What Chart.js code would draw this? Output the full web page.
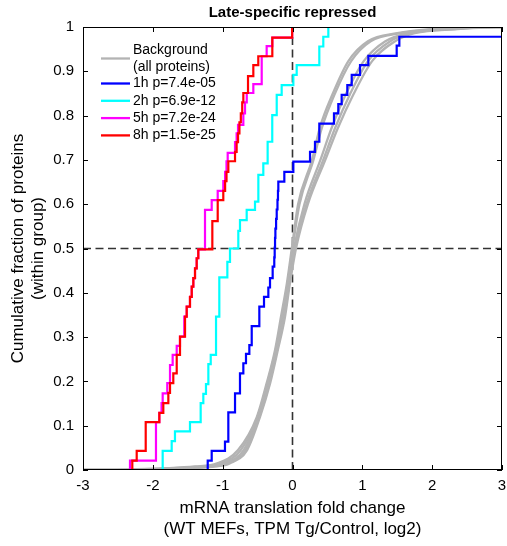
<!DOCTYPE html>
<html>
<head>
<meta charset="utf-8">
<title>Late-specific repressed</title>
<script src="https://cdn.jsdelivr.net/npm/chart.js@4.4.1/dist/chart.umd.min.js"></script>
<style>
    html, body { margin: 0; padding: 0; background: #fff; }
    #wrap { width: 507px; height: 546px; }
</style>
</head>
<body>
<div id="wrap"><canvas id="cdfChart" width="507" height="546"></canvas></div>

<script>
// Group labels and KS p-values
const hours = ['1h', '2h', '5h', '8h'];
const pValues = ['7.4e-05', '6.9e-12', '7.2e-24', '1.5e-25'];

// Background (all proteins): cumulative fraction levels and log2 fold change per replicate curve
const bgFrac = [0, 0.001, 0.004, 0.008, 0.015, 0.045, 0.12, 0.196, 0.271, 0.346, 0.422, 0.5, 0.6, 0.7, 0.772, 0.847, 0.923, 0.968, 0.986, 0.995, 0.999, 1];
const bgA = [-3, -2.4, -1.8, -1.4, -1.08, -0.78, -0.51, -0.37, -0.25, -0.165, -0.08, -0.01, 0.08, 0.28, 0.39, 0.57, 0.80, 1.08, 1.50, 1.97, 2.5, 3];
const bgB = [-3, -2.3, -1.7, -1.3, -1.02, -0.74, -0.50, -0.36, -0.24, -0.15, -0.07, 0.00, 0.10, 0.30, 0.42, 0.60, 0.84, 1.12, 1.55, 2.05, 2.6, 3];
const bgC = [-3, -2.2, -1.6, -1.22, -0.97, -0.70, -0.49, -0.34, -0.23, -0.13, -0.055, 0.02, 0.17, 0.40, 0.56, 0.76, 1.02, 1.33, 1.65, 2.2, 2.7, 3];
const bgD = [-3, -2.1, -1.5, -1.15, -0.93, -0.67, -0.475, -0.33, -0.22, -0.118, -0.045, 0.035, 0.20, 0.44, 0.61, 0.82, 1.08, 1.40, 1.70, 2.3, 2.75, 3];
const bgE = [-3, -2.0, -1.45, -1.1, -0.9, -0.65, -0.465, -0.32, -0.21, -0.107, -0.036, 0.05, 0.22, 0.47, 0.65, 0.87, 1.14, 1.47, 1.75, 2.36, 2.8, 3];

// Late-specific repressed group: step positions (log2 FC) and cumulative fraction after each step
const x1h = [-1.214, -1.157, -0.967, -0.919, -0.823, -0.752, -0.704, -0.666, -0.618, -0.584, -0.475, -0.408, -0.346, -0.322, -0.284, -0.261, -0.255, -0.250, -0.245, -0.235, -0.226, -0.215, -0.208, -0.203, -0.117, 0.012, 0.251, 0.322, 0.384, 0.594, 0.656, 0.704, 0.785, 0.848, 0.967, 1.086, 1.492, 1.530, 3];
const frac1h = [0.021, 0.043, 0.064, 0.130, 0.173, 0.218, 0.241, 0.262, 0.282, 0.325, 0.369, 0.391, 0.412, 0.433, 0.459, 0.480, 0.502, 0.524, 0.545, 0.567, 0.588, 0.610, 0.630, 0.651, 0.673, 0.696, 0.718, 0.741, 0.782, 0.805, 0.826, 0.847, 0.869, 0.892, 0.914, 0.935, 0.958, 0.978, 0.978];

const x2h = [-1.859, -1.730, -1.683, -1.468, -1.315, -1.277, -1.239, -1.205, -1.171, -1.095, -1.048, -0.933, -0.895, -0.776, -0.752, -0.656, -0.537, -0.489, -0.418, -0.356, -0.290, -0.226, -0.155, 0.012, 0.060, 0.384, 0.441, 0.513];
const frac2h = [0.043, 0.065, 0.087, 0.108, 0.151, 0.172, 0.194, 0.239, 0.260, 0.346, 0.435, 0.470, 0.500, 0.540, 0.564, 0.587, 0.606, 0.666, 0.692, 0.741, 0.801, 0.847, 0.869, 0.892, 0.914, 0.956, 0.978, 1.0];

const x5h = [-2.327, -1.955, -1.907, -1.875, -1.859, -1.793, -1.754, -1.716, -1.658, -1.611, -1.550, -1.515, -1.468, -1.443, -1.420, -1.396, -1.372, -1.349, -1.253, -1.157, -1.071, -0.991, -0.965, -0.945, -0.928, -0.823, -0.800, -0.780, -0.704, -0.680, -0.655, -0.561, -0.441, -0.370, -0.289, -0.005];
const frac5h = [0.021, 0.108, 0.129, 0.151, 0.173, 0.196, 0.237, 0.260, 0.280, 0.301, 0.346, 0.369, 0.391, 0.414, 0.433, 0.455, 0.478, 0.498, 0.587, 0.609, 0.630, 0.652, 0.673, 0.697, 0.716, 0.740, 0.760, 0.779, 0.805, 0.830, 0.851, 0.871, 0.934, 0.957, 0.976, 1.0];

const x8h = [-2.294, -2.231, -2.102, -1.907, -1.850, -1.778, -1.754, -1.707, -1.658, -1.611, -1.539, -1.515, -1.468, -1.443, -1.420, -1.396, -1.372, -1.349, -1.148, -1.071, -0.991, -0.965, -0.945, -0.919, -0.823, -0.800, -0.780, -0.760, -0.740, -0.720, -0.704, -0.637, -0.561, -0.490, -0.289, -0.005];
const frac8h = [0.021, 0.043, 0.108, 0.129, 0.151, 0.174, 0.196, 0.218, 0.260, 0.301, 0.346, 0.369, 0.391, 0.414, 0.433, 0.455, 0.478, 0.498, 0.562, 0.609, 0.630, 0.652, 0.673, 0.697, 0.718, 0.740, 0.760, 0.785, 0.805, 0.830, 0.851, 0.889, 0.914, 0.934, 0.976, 1.0];

const xTicks = [-3, -2, -1, 0, 1, 2, 3];
const yTicks = [0, 0.1, 0.2, 0.3, 0.4, 0.5, 0.6, 0.7, 0.8, 0.9, 1];

const FONT = '"Liberation Sans", Arial, Helvetica, sans-serif';
const GRAY = '#b3b3b3';
const lineColors = ['#0000ff', '#00ffff', '#ff00ff', '#ff0000'];

// ECDF points: start on the x axis, then one point per step
function stepPoints(xs, fr) {
    const pts = [{x: xs[0], y: 0}];
    xs.forEach((v, i) => pts.push({x: v, y: fr[i]}));
    return pts;
}

function curvePoints(xs, fr) {
    return xs.map((v, i) => ({x: v, y: fr[i]}));
}

const bgCurves = [bgA, bgB, bgC, bgD, bgE];
const groupX = [x1h, x2h, x5h, x8h];
const groupFrac = [frac1h, frac2h, frac5h, frac8h];

const datasets = [];
// red drawn on top, background underneath everything
for (let i = groupX.length - 1; i >= 0; i--) {
    datasets.push({
        label: `${hours[i]} p=${pValues[i]}`,
        data: stepPoints(groupX[i], groupFrac[i]),
        borderColor: lineColors[i],
        borderWidth: 2.2,
        stepped: true,
        order: groupX.length - 1 - i
    });
}
bgCurves.forEach((xs, k) => {
    datasets.push({
        label: 'Background',
        data: curvePoints(xs, bgFrac),
        borderColor: GRAY,
        borderWidth: 2.3,
        cubicInterpolationMode: 'monotone',
        order: 10 + k
    });
});

// frame, inward ticks, reference lines, title and legend
const decorations = {
    id: 'decorations',
    beforeDatasetsDraw(chart) {
        const {ctx, chartArea: a, scales: {x, y}} = chart;
        const x0 = x.getPixelForValue(0);
        const yh = y.getPixelForValue(0.5);
        ctx.save();
        ctx.strokeStyle = '#333';
        ctx.lineWidth = 1.6;
        ctx.setLineDash([8, 4.5]);
        ctx.beginPath();
        ctx.moveTo(x0, a.bottom);
        ctx.lineTo(x0, a.top);
        ctx.moveTo(a.left, yh);
        ctx.lineTo(a.right, yh);
        ctx.stroke();
        ctx.restore();
    },
    afterDraw(chart) {
        const {ctx, chartArea: a, scales: {x, y}} = chart;
        ctx.save();
        ctx.strokeStyle = '#000';
        ctx.lineWidth = 1;
        ctx.strokeRect(a.left + 0.5, a.top + 0.5, a.right - a.left - 1, a.bottom - a.top - 1);

        const tick = 5;
        ctx.beginPath();
        xTicks.forEach(v => {
            const px = Math.round(x.getPixelForValue(v)) + 0.5;
            ctx.moveTo(px, a.bottom); ctx.lineTo(px, a.bottom - tick);
            ctx.moveTo(px, a.top); ctx.lineTo(px, a.top + tick);
        });
        yTicks.forEach(v => {
            const py = Math.round(y.getPixelForValue(v)) + 0.5;
            ctx.moveTo(a.left, py); ctx.lineTo(a.left + tick, py);
            ctx.moveTo(a.right, py); ctx.lineTo(a.right - tick, py);
        });
        ctx.stroke();

        // title
        ctx.fillStyle = '#000';
        ctx.font = `bold 15px ${FONT}`;
        ctx.textAlign = 'center';
        ctx.textBaseline = 'middle';
        ctx.fillText('Late-specific repressed', (a.left + a.right) / 2, 13);

        // legend
        const sx = a.left + 18, sLen = 29, tx = sx + 32;
        ctx.font = `14px ${FONT}`;
        ctx.textAlign = 'left';
        ctx.lineWidth = 2.3;
        ctx.strokeStyle = GRAY;
        ctx.beginPath();
        ctx.moveTo(sx, a.top + 31.5); ctx.lineTo(sx + sLen, a.top + 31.5);
        ctx.stroke();
        ctx.fillText('Background', tx, a.top + 23);
        ctx.fillText('(all proteins)', tx, a.top + 40.5);
        hours.forEach((h, i) => {
            const ly = a.top + 56.5 + i * 17.3;
            ctx.strokeStyle = lineColors[i];
            ctx.beginPath();
            ctx.moveTo(sx, ly); ctx.lineTo(sx + sLen, ly);
            ctx.stroke();
            ctx.fillText(`${h} p=${pValues[i]}`, tx, ly);
        });
        ctx.restore();
    }
};

new Chart(document.getElementById('cdfChart').getContext('2d'), {
    type: 'line',
    data: { datasets: datasets },
    options: {
        responsive: false,
        animation: false,
        devicePixelRatio: 1,
        layout: { padding: { top: 27, right: 5, left: 0, bottom: 0 } },
        elements: { point: { radius: 0 }, line: { tension: 0 } },
        plugins: {
            legend: { display: false },
            tooltip: { enabled: false },
            title: { display: false }
        },
        scales: {
            x: {
                type: 'linear',
                min: -3,
                max: 3,
                grid: { display: false, drawTicks: false },
                border: { display: false },
                ticks: {
                    stepSize: 1,
                    color: '#000',
                    padding: 7,
                    maxRotation: 0,
                    autoSkip: false,
                    font: { family: FONT, size: 15 }
                },
                title: {
                    display: true,
                    text: ['mRNA translation fold change', '(WT MEFs, TPM Tg/Control, log2)'],
                    color: '#000',
                    font: { family: FONT, size: 17, lineHeight: 1.25 },
                    padding: { top: 0, bottom: 6 }
                },
                afterFit(scale) {
                    scale.height = 76;
                    // end labels may overhang the plot edge
                    scale.paddingLeft = 0;
                    scale.paddingRight = 0;
                }
            },
            y: {
                type: 'linear',
                min: 0,
                max: 1,
                grid: { display: false, drawTicks: false },
                border: { display: false },
                ticks: {
                    stepSize: 0.1,
                    color: '#000',
                    padding: 9,
                    font: { family: FONT, size: 15 },
                    callback: v => String(Math.round(v * 10) / 10)
                },
                title: {
                    display: true,
                    text: ['Cumulative fraction of proteins', '(within group)'],
                    color: '#000',
                    font: { family: FONT, size: 17, lineHeight: 1.18 },
                    padding: { top: 8, bottom: 0 }
                },
                afterFit(scale) { scale.width = 83; }
            }
        }
    },
    plugins: [decorations]
});
</script>
</body>
</html>
